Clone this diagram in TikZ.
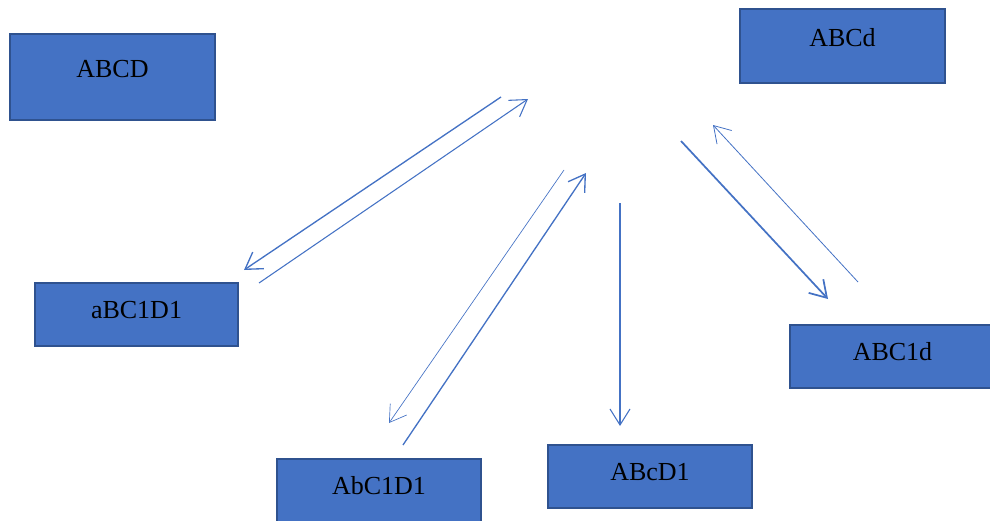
\documentclass[tikz,border=0pt]{standalone}
\usepackage{fontspec}
\setmainfont{Liberation Serif}
\usetikzlibrary{arrows.meta}
\definecolor{boxblue}{HTML}{4472C4}
\definecolor{boxedge}{HTML}{2F528F}
\begin{document}
\begin{tikzpicture}[x=0.75pt, y=-0.75pt,
    state style/.style={draw=boxedge, fill=boxblue, line width=1.5pt,
        minimum width=153.75pt, minimum height=47pt,
        text height=17pt, text depth=11pt, inner sep=0pt,
        font=\fontsize{19.5}{22}\selectfont},
    big state/.style={text height=14pt, text depth=14pt},
    link style/.style={draw=boxblue, -{Straight Barb[length=12pt, width=15pt]}},]
    \clip (0,0) rectangle (990,521);

    \node[state style, big state, minimum height=64.5pt] (ABCD) at (112.5,77) {ABCD};
    \node[state style, big state, minimum height=55.5pt] (ABCd) at (842.5,46) {ABCd};
    \node[state style, minimum width=152pt] (aBC1D1) at (136.5,314.5) {aBC1D1};
    \node[state style] (ABC1d) at (892.5,356.5) {ABC1d};
    \node[state style, minimum width=153pt] (AbC1D1) at (379,490.5) {AbC1D1};
    \node[state style, minimum width=153pt] (ABcD1) at (650,476.5) {ABcD1};

    \coordinate (s1) at (501,97);
    \coordinate (e1) at (244,270);
    \coordinate (s2) at (259,283);
    \coordinate (e2) at (528,99);
    \coordinate (s3) at (564,170);
    \coordinate (e3) at (389,423);
    \coordinate (s4) at (403,445);
    \coordinate (e4) at (586,173);
    \coordinate (s5) at (620,203);
    \coordinate (e5) at (620,426);
    \coordinate (s6) at (681,141);
    \coordinate (e6) at (828,299);
    \coordinate (s7) at (858,282);
    \coordinate (e7) at (713,125);

    \draw[style=link style, line width=1pt] (s1) -- (e1);
    \draw[style=link style, line width=0.8pt] (s2) -- (e2);
    \draw[style=link style, line width=0.5pt] (s3) -- (e3);
    \draw[style=link style, line width=1pt] (s4) -- (e4);
    \draw[style=link style, line width=0.8pt] (s5) -- (e5);
    \draw[style=link style, line width=1.3pt] (s6) -- (e6);
    \draw[style=link style, line width=0.6pt] (s7) -- (e7);

\end{tikzpicture}
\end{document}
